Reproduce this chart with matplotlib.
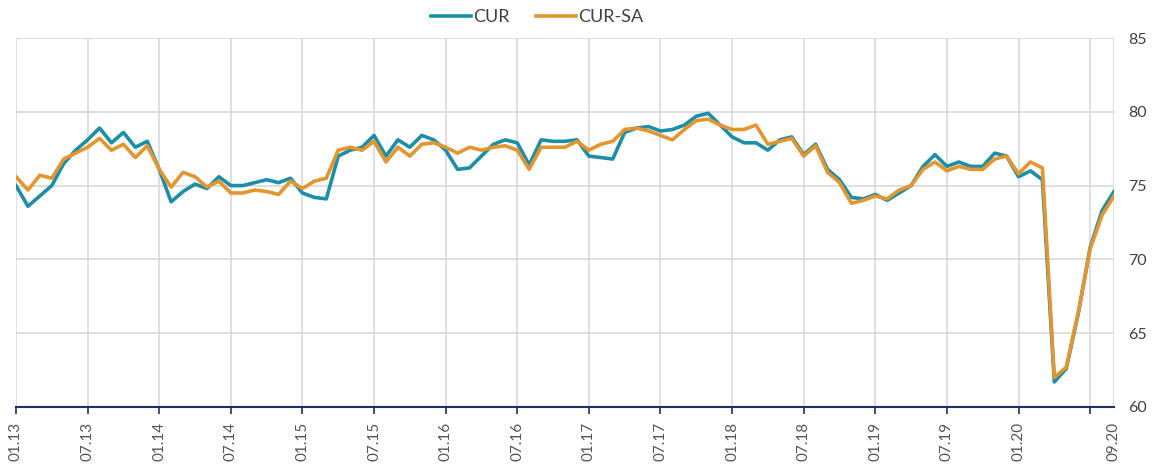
import numpy as np
import matplotlib.pyplot as plt

# monthly values, 01.2013 .. 09.2020
cur = [75.0, 73.6, 74.3, 75.0, 76.5, 77.4, 78.1, 78.9, 77.9, 78.6, 77.6, 78.0,
       76.1, 73.9, 74.6, 75.1, 74.8, 75.6, 75.0, 75.0, 75.2, 75.4, 75.2, 75.5,
       74.5, 74.2, 74.1, 77.0, 77.4, 77.6, 78.4, 77.0, 78.1, 77.6, 78.4, 78.1,
       77.4, 76.1, 76.2, 77.0, 77.8, 78.1, 77.9, 76.4, 78.1, 78.0, 78.0, 78.1,
       77.0, 76.9, 76.8, 78.6, 78.9, 79.0, 78.7, 78.8, 79.1, 79.7, 79.9, 79.1,
       78.3, 77.9, 77.9, 77.4, 78.1, 78.3, 77.1, 77.8, 76.1, 75.4, 74.2, 74.1,
       74.4, 74.0, 74.5, 75.0, 76.3, 77.1, 76.3, 76.6, 76.3, 76.3, 77.2, 77.0,
       75.6, 76.0, 75.4, 61.7, 62.6, 66.3, 70.8, 73.3, 74.6]
cur_sa = [75.6, 74.7, 75.7, 75.5, 76.8, 77.2, 77.6, 78.2, 77.4, 77.8, 76.9, 77.7,
          76.1, 74.9, 75.9, 75.6, 74.9, 75.3, 74.5, 74.5, 74.7, 74.6, 74.4, 75.3,
          74.8, 75.3, 75.5, 77.4, 77.6, 77.4, 78.0, 76.6, 77.6, 77.0, 77.8, 77.9,
          77.6, 77.2, 77.6, 77.4, 77.6, 77.7, 77.4, 76.1, 77.6, 77.6, 77.6, 78.0,
          77.4, 77.8, 78.0, 78.8, 78.9, 78.7, 78.4, 78.1, 78.8, 79.4, 79.5, 79.1,
          78.8, 78.8, 79.1, 77.8, 78.0, 78.2, 77.0, 77.7, 75.9, 75.2, 73.8, 74.0,
          74.3, 74.1, 74.7, 75.0, 76.1, 76.6, 76.0, 76.3, 76.1, 76.1, 76.8, 77.0,
          75.8, 76.6, 76.2, 62.0, 62.7, 66.4, 70.7, 73.0, 74.3]
tick_labels = ['01.13', '07.13', '01.14', '07.14', '01.15', '07.15', '01.16', '07.16',
               '01.17', '07.17', '01.18', '07.18', '01.19', '07.19', '01.20', '', '09.20']

plt.rcParams['font.family'] = ['Lato', 'DejaVu Sans']

x = np.arange(len(cur))
fig = plt.figure(figsize=(11.54, 4.67), dpi=100)
ax = fig.add_axes([16/1154, 60/467, 1098/1154, 369/467])

ax.plot(x, cur, color='#1b8ea8', lw=2.6, label='CUR', solid_joinstyle='round')
ax.plot(x, cur_sa, color='#e3952f', lw=2.6, label='CUR-SA', solid_joinstyle='round')

ax.set_xlim(0, len(cur) - 1)
ax.set_ylim(60, 85)
ax.set_yticks(range(60, 86, 5))
ax.yaxis.tick_right()
ax.tick_params(axis='y', length=0, pad=10, labelsize=11.5, labelcolor='#404040')

ticks = list(range(0, 91, 6)) + [92]
ax.set_xticks(ticks)
ax.set_xticklabels(tick_labels, rotation=90)
ax.tick_params(axis='x', length=5, width=1.2, color='#1f2d6b', pad=6,
               labelsize=11, labelcolor='#555555')
last = ax.xaxis.get_major_ticks()[-1]
last.tick1line.set_visible(False)
last.gridline.set_visible(False)

ax.grid(True, color='#d9d9d9', lw=1.2)
ax.set_axisbelow(True)
for s in ['top', 'right', 'left']:
    ax.spines[s].set_visible(False)
ax.spines['bottom'].set_color('#1f2d6b')
ax.spines['bottom'].set_linewidth(1.5)

fig.legend(loc='center', bbox_to_anchor=(537/1154, 1 - 17/467), ncol=2, frameon=False,
           fontsize=13, handlelength=2.2, handletextpad=0.1, columnspacing=1.5,
           labelcolor='#404040')

fig.savefig('out.png', dpi=100)
